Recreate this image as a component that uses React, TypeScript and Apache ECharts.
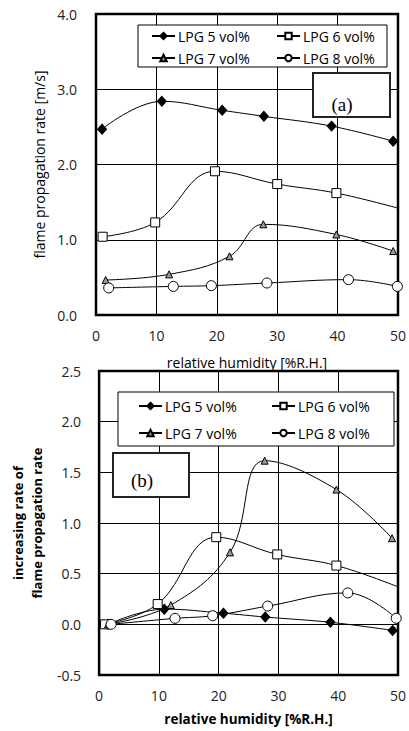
import React, { useEffect, useRef } from "react";
import * as echarts from "echarts";

const seriesNames = ["LPG 5 vol%", "LPG 6 vol%", "LPG 7 vol%", "LPG 8 vol%"];

// (a) flame propagation rate [m/s]
const a5: [number, number][] = [[1.0, 2.47], [10.9, 2.84], [20.9, 2.72], [27.8, 2.64], [39.0, 2.51], [49.2, 2.31]];
const a6: [number, number][] = [[1.1, 1.04], [9.8, 1.23], [19.7, 1.91], [30.0, 1.74], [39.8, 1.62], [50.0, 1.42]];
const a7: [number, number][] = [[1.6, 0.465], [12.1, 0.54], [22.1, 0.78], [27.7, 1.205], [39.8, 1.07], [49.2, 0.85]];
const a8: [number, number][] = [[2.1, 0.36], [12.8, 0.38], [19.1, 0.39], [28.3, 0.425], [41.8, 0.47], [49.9, 0.38]];

// (b) increasing rate of flame propagation rate
const b5: [number, number][] = [[1.5, 0.0], [10.9, 0.15], [20.8, 0.11], [27.8, 0.072], [38.7, 0.02], [49.1, -0.06]];
const b6: [number, number][] = [[1.0, 0.0], [9.8, 0.2], [19.6, 0.86], [29.8, 0.69], [39.7, 0.58], [50.0, 0.37]];
const b7: [number, number][] = [[1.5, 0.0], [12.0, 0.19], [21.9, 0.71], [27.7, 1.615], [39.7, 1.33], [49.0, 0.85]];
const b8: [number, number][] = [[2.0, 0.0], [12.7, 0.059], [19.0, 0.085], [28.2, 0.18], [41.6, 0.31], [49.7, 0.06]];

const xTicks = [0, 10, 20, 30, 40, 50];

const FONT = "Open Sans";

const symbolStyles = [
  { symbol: "diamond", symbolSize: [9, 10], itemStyle: { color: "#000", borderColor: "#000", borderWidth: 1 } },
  { symbol: "rect", symbolSize: 9, itemStyle: { color: "#fff", borderColor: "#000", borderWidth: 1 } },
  { symbol: "triangle", symbolSize: 7, itemStyle: { color: "#9a9a9a", borderColor: "#000", borderWidth: 1 } },
  { symbol: "circle", symbolSize: 10, itemStyle: { color: "#fff", borderColor: "#000", borderWidth: 1 } },
];

function mkSeries(data: [number, number][], idx: number, grid: number, noLastSymbol: boolean) {
  const st = symbolStyles[idx];
  return {
    type: "line",
    name: seriesNames[idx],
    xAxisIndex: grid,
    yAxisIndex: grid,
    smooth: 0.4,
    symbol: st.symbol,
    symbolSize: st.symbolSize,
    itemStyle: st.itemStyle,
    lineStyle: { color: "#000", width: 1 },
    data: data.map((d, i) =>
      noLastSymbol && i === data.length - 1 ? { value: d, symbol: "none" } : { value: d }
    ),
    z: 3,
  };
}

function mkLegend(name: string, left: number, top: number) {
  return {
    data: [name],
    left,
    top,
    padding: 0,
    itemWidth: 23,
    itemHeight: 8,
    itemGap: 0,
    selectedMode: false,
    textStyle: { fontFamily: FONT, fontSize: 14, color: "#000", padding: [0, 0, 0, -2] },
    z: 10,
  };
}

export default function App() {
  const ref = useRef<HTMLDivElement>(null);
  useEffect(() => {
    if (!ref.current) return;
    const chart = echarts.init(ref.current, null, { renderer: "svg" });
    const axisLabel = { fontFamily: FONT, fontSize: 14, color: "#222" };
    const option = {
      animation: false,
      backgroundColor: "#fff",
      grid: [
        { left: 96, top: 14, width: 306, height: 301, show: true, borderColor: "#000", borderWidth: 2.5, backgroundColor: "transparent" },
        { left: 93, top: 371, width: 306, height: 304, show: true, borderColor: "#000", borderWidth: 2.5, backgroundColor: "transparent" },
      ],
      xAxis: [0, 1].map((g) => ({
        type: "value",
        gridIndex: g,
        min: xTicks[0],
        max: xTicks[xTicks.length - 1],
        interval: 10,
        axisLine: { show: false },
        axisTick: { show: false },
        splitLine: { show: true, lineStyle: { color: "#000", width: 1 } },
        axisLabel: { ...axisLabel, margin: 13 },
        name: "relative humidity [%R.H.]",
        nameLocation: "middle",
        nameGap: g === 0 ? 40 : 37,
        nameTextStyle: { fontFamily: FONT, fontSize: g === 0 ? 14 : 13.5, fontWeight: g === 0 ? "normal" : "bold", color: "#000" },
      })),
      yAxis: [
        {
          type: "value",
          gridIndex: 0,
          min: 0,
          max: 4,
          interval: 1,
          axisLine: { show: false },
          axisTick: { show: false },
          splitLine: { show: true, lineStyle: { color: "#000", width: 1 } },
          axisLabel: { ...axisLabel, margin: 19, formatter: (v: number) => v.toFixed(1) },
          name: "flame propagation rate [m/s]",
          nameLocation: "middle",
          nameGap: 44,
          nameTextStyle: { fontFamily: FONT, fontSize: 14, color: "#000" },
        },
        {
          type: "value",
          gridIndex: 1,
          min: -0.5,
          max: 2.5,
          interval: 0.5,
          axisLine: { show: false },
          axisTick: { show: false },
          splitLine: { show: true, lineStyle: { color: "#000", width: 1 } },
          axisLabel: { ...axisLabel, margin: 18, formatter: (v: number) => v.toFixed(1) },
          name: "increasing rate of\nflame propagation rate",
          nameLocation: "middle",
          nameGap: 46,
          nameTextStyle: { fontFamily: FONT, fontSize: 13, fontWeight: "bold", color: "#000", lineHeight: 19 },
        },
      ],
      legend: [
        mkLegend(seriesNames[0], 151, 29),
        mkLegend(seriesNames[1], 276, 29),
        mkLegend(seriesNames[2], 151, 51),
        mkLegend(seriesNames[3], 276, 51),
        mkLegend(seriesNames[0], 138, 399),
        mkLegend(seriesNames[1], 271, 399),
        mkLegend(seriesNames[2], 138, 426),
        mkLegend(seriesNames[3], 271, 426),
      ],
      graphic: [
        { type: "rect", shape: { x: 138, y: 25, width: 249, height: 42 }, style: { fill: "#fff", stroke: "#000", lineWidth: 1 }, z: 5 },
        { type: "rect", shape: { x: 118, y: 392, width: 276, height: 54 }, style: { fill: "#fff", stroke: "#000", lineWidth: 1 }, z: 5 },
        { type: "rect", shape: { x: 313, y: 73, width: 77, height: 44 }, style: { fill: "#fff", stroke: "#222", lineWidth: 2 }, z: 5 },
        { type: "text", x: 342, y: 104, style: { text: "(a)", font: "19px 'Liberation Serif'", fill: "#000", align: "center", verticalAlign: "middle" }, z: 6 },
        { type: "rect", shape: { x: 113, y: 453, width: 76, height: 44 }, style: { fill: "#fff", stroke: "#222", lineWidth: 2 }, z: 5 },
        { type: "text", x: 142, y: 480, style: { text: "(b)", font: "19px 'Liberation Serif'", fill: "#000", align: "center", verticalAlign: "middle" }, z: 6 },
      ],
      series: [
        mkSeries(a5, 0, 0, false),
        mkSeries(a6, 1, 0, true),
        mkSeries(a7, 2, 0, false),
        mkSeries(a8, 3, 0, false),
        mkSeries(b5, 0, 1, false),
        mkSeries(b6, 1, 1, true),
        mkSeries(b7, 2, 1, false),
        mkSeries(b8, 3, 1, false),
      ],
    };
    chart.setOption(option as any);
    return () => chart.dispose();
  }, []);
  return <div ref={ref} style={{ position: "fixed", left: 0, top: 0, width: 409, height: 731 }} />;
}
